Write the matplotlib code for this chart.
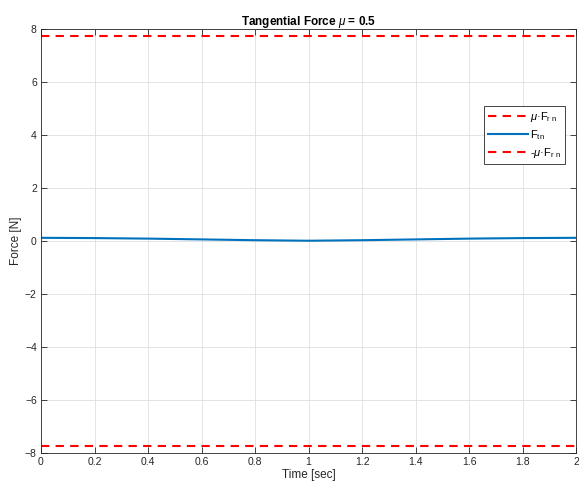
import matplotlib
matplotlib.use("Agg")
import matplotlib.pyplot as plt
import numpy as np

plt.rcParams['font.family'] = ['Liberation Sans', 'DejaVu Sans']
plt.rcParams['mathtext.fontset'] = 'custom'
plt.rcParams['mathtext.it'] = 'Liberation Sans:italic'
plt.rcParams['mathtext.rm'] = 'Liberation Sans'

time = [0.0, 0.2, 0.4, 0.6, 0.8, 1.0, 1.2, 1.4, 1.6, 1.8, 2.0]
f_tn = [0.12, 0.11, 0.09, 0.06, 0.03, 0.01, 0.03, 0.06, 0.09, 0.11, 0.12]
mu_frn = 7.73
xticks = [0, 0.2, 0.4, 0.6, 0.8, 1, 1.2, 1.4, 1.6, 1.8, 2]
xticklabels = ['0', '0.2', '0.4', '0.6', '0.8', '1', '1.2', '1.4', '1.6', '1.8', '2']
yticks = [-8, -6, -4, -2, 0, 2, 4, 6, 8]

fig = plt.figure(figsize=(5.79, 4.88), dpi=100)
ax = fig.add_axes([0.0708, 0.0717, 0.9242, 0.8689])

t0, t1 = time[0], time[-1]
ax.plot([t0, t1], [mu_frn, mu_frn], '--', color='#ff0000', lw=1.5, dashes=(4, 3), label=r'$\mu$·F$_{\rm r\ n}$')
ax.plot(time, f_tn, '-', color='#0072bd', lw=1.5, label=r'F$_{\rm tn}$')
ax.plot([t0, t1], [-mu_frn, -mu_frn], '--', color='#ff0000', lw=1.5, dashes=(4, 3), label=r'-$\mu$·F$_{\rm r\ n}$')

ax.set_xlim(0, 2)
ax.set_ylim(-8, 8)
ax.set_xticks(xticks)
ax.set_xticklabels(xticklabels)
ax.set_yticks(yticks)
ax.tick_params(direction='in', length=4, width=0.6, labelsize=7.5, colors='#262626',
               top=True, right=True, pad=3)
for s in ax.spines.values():
    s.set_color('#262626')
    s.set_linewidth(0.6)
ax.grid(True, color='#dfdfdf', linewidth=0.6)
ax.set_axisbelow(True)

ax.set_xlabel('Time [sec]', fontsize=8.5, labelpad=1, color='#262626')
ax.set_ylabel('Force [N]', fontsize=8.5, labelpad=2, color='#262626')
ax.set_title(r'Tangential Force $\mu$ = 0.5', fontsize=8.5, fontweight='bold', pad=3)

leg = ax.legend(loc='upper right', bbox_to_anchor=(0.979, 0.818), fontsize=8,
                frameon=True, fancybox=False, edgecolor='#262626', framealpha=1,
                handlelength=3.6, handletextpad=0.2, borderpad=0.35, labelspacing=0.35,
                borderaxespad=0)
leg.get_frame().set_linewidth(0.6)

fig.savefig('out.png', dpi=100)
